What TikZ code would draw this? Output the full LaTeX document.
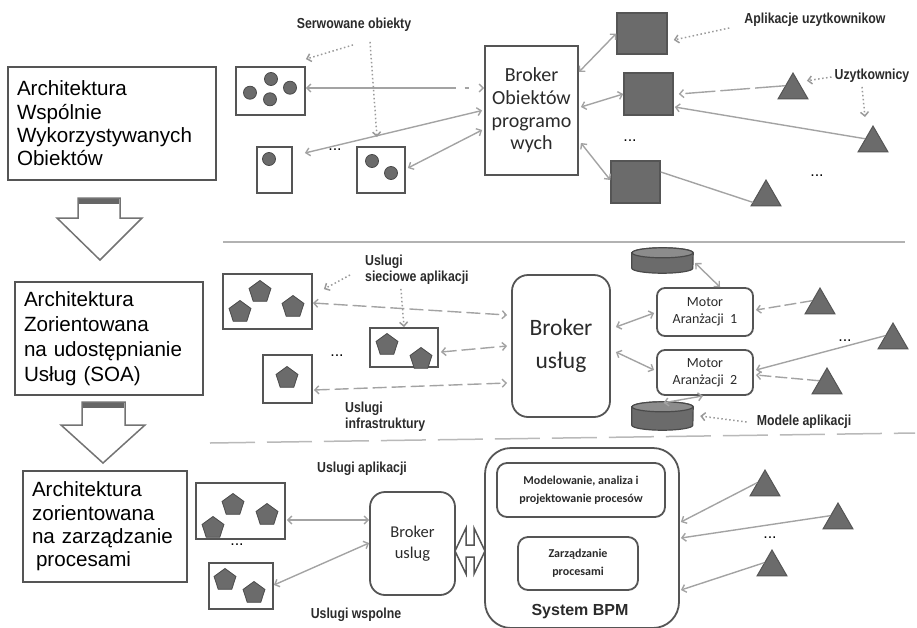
\documentclass[tikz,border=0pt]{standalone}
\usepackage{fontspec}
\setmainfont{Liberation Sans}
\newfontfamily\calfont{Carlito}
\newfontfamily\narrowfont[FakeStretch=0.85]{Liberation Sans}
\usetikzlibrary{shapes.geometric,arrows.meta}
\definecolor{bordergray}{HTML}{555555}
\definecolor{shapegray}{HTML}{6B6B6B}
\definecolor{shapeedge}{HTML}{4A4A4A}
\definecolor{linegray}{HTML}{A3A3A3}
\definecolor{notegray}{HTML}{9A9A9A}
\definecolor{textgray}{HTML}{2B2B2B}
\definecolor{capgray}{HTML}{8C8C8C}
\begin{document}
\begin{tikzpicture}[x=1pt,y=-1pt,
  >={Straight Barb[length=4pt,width=8pt]},
  box/.style={draw=bordergray,line width=1.8pt,fill=white,inner sep=0pt},
  rbox/.style={box,rounded corners=#1},
  lbox/.style={draw=bordergray,line width=1.6pt,fill=white,inner xsep=9pt,align=left,text=black},
  obj/.style={circle,draw=shapeedge,fill=shapegray,line width=0.8pt,minimum size=13pt,inner sep=0pt},
  pent/.style={regular polygon,regular polygon sides=5,draw=shapeedge,fill=shapegray,line width=0.8pt,minimum size=23pt,inner sep=0pt},
  tri/.style={regular polygon,regular polygon sides=3,draw=bordergray,fill=shapegray,line width=1pt,minimum size=34.6pt,inner sep=0pt},
  sq/.style={draw=bordergray,fill=shapegray,line width=1.5pt,inner sep=0pt},
  cylframe/.style={inner sep=0pt,minimum width=61pt},
  cylbody/.style={draw=shapeedge,fill=shapegray,line width=1.2pt},
  cylcap/.style={draw=shapeedge,fill=capgray,line width=1.2pt},
  conn/.style={draw=linegray,line width=1.4pt},
  dashedconn/.style={conn,dash pattern=on 14pt off 5pt},
  note/.style={draw=notegray,line width=1.5pt,dash pattern=on 1.5pt off 2.5pt,->},
  lab/.style={font=\narrowfont\bfseries\fontsize{14.5}{16}\selectfont,text=textgray,inner sep=0pt},
  dots/.style={font=\fontsize{16}{16}\selectfont,inner sep=0pt},
  brk/.style={text=textgray,align=center}
]
\useasboundingbox (0,0) rectangle (917,627);

% ---------------- left column ----------------
\node[lbox,minimum height=113pt,text width=190pt,font=\fontsize{20.6}{23.3}\selectfont] (a1) at (112,123.5)
  {Architektura\\Wspólnie\\Wykorzystywanych\\Obiektów};
\node[lbox,minimum height=113pt,text width=170pt,font=\fontsize{20.6}{25}\selectfont] (a2) at (109,338.5)
  {Architektura\\Zorientowana\\na udostępnianie\\Usług (SOA)};
\node[lbox,minimum height=111pt,text width=146pt,font=\fontsize{20.6}{23.3}\selectfont] (a3) at (105,526.5)
  {Architektura\\zorientowana\\na zarządzanie\\\hspace*{4pt}procesami};

% hollow down arrows
\draw[draw=gray!90!black,line width=1.5pt,fill=white,line join=miter]
  (78,198) -- (120,198) -- (120,218) -- (142,218) -- (100,260) -- (57,218) -- (78,218) -- cycle;
\fill[gray!80!black] (79,198.5) rectangle (119,203.5);
\draw[draw=gray!90!black,line width=1.5pt,fill=white,line join=miter]
  (82,402) -- (125,402) -- (125,425) -- (145,425) -- (103,463) -- (61,425) -- (82,425) -- cycle;
\fill[gray!80!black] (83,402.5) rectangle (124,407.5);

% ---------------- top section ----------------
\node[box,minimum width=69pt,minimum height=48pt] (o4) at (270.5,91) {};
\node[obj] (c41) at (250,92.7) {};
\node[obj] (c42) at (271,79) {};
\node[obj] (c43) at (290,87.7) {};
\node[obj] (c44) at (270,99.3) {};
\node[box,minimum width=35pt,minimum height=46pt] (o1) at (274.5,170) {};
\node[obj] (c11) at (269,159) {};
\node[box,minimum width=48pt,minimum height=46pt] (o2) at (381,170) {};
\node[obj] (c21) at (372,161) {};
\node[obj] (c22) at (391,173) {};
\node[dots] (d1) at (335,150) {...};

\node[box,minimum width=93pt,minimum height=129pt,brk,font=\calfont\fontsize{20}{22.7}\selectfont] (broker)
  at (531.5,110.5) {Broker\\Obiektów\\programo\\wych};

\node[sq,minimum width=50pt,minimum height=41pt] (sq1) at (642,33.5) {};
\node[sq,minimum width=49pt,minimum height=42pt] (sq2) at (648.5,94) {};
\node[sq,minimum width=49pt,minimum height=42pt] (sq3) at (635.5,182) {};
\node[dots] (d2) at (630,141) {...};

\node[tri] (t1) at (793,90.3) {};
\node[tri] (t2) at (873,143.3) {};
\node[tri] (t3) at (766,197.3) {};
\node[dots] (d3) at (817,176) {...};

\node[lab] (sob) at (354,25) {Serwowane obiekty};
\node[lab] (apl) at (815,20) {Aplikacje uzytkownikow};
\node[lab] (uzy) at (872,76) {Uzytkownicy};
\coordinate (m1) at (377,137);

\draw[conn,<->,dash pattern=on 148pt off 9pt on 4pt off 40pt] ([yshift=3pt]o4.east) -- ([yshift=22.5pt]broker.west);
\draw[conn,<->] ([xshift=12pt,yshift=17pt]o1.east) -- ([xshift=-2pt]broker.west);
\draw[conn,<->] ([xshift=2pt,yshift=2pt]o2.east) -- ([xshift=-2pt,yshift=-19.5pt]broker.west);
\draw[conn,<->] ([yshift=38.5pt]broker.east) -- (sq1.west);
\draw[conn,<->] ([xshift=2pt,yshift=3.5pt]broker.east) -- (sq2.west);
\draw[conn,<->] ([xshift=2pt,yshift=-32.5pt]broker.east) -- ([yshift=2pt]sq3.west);
\draw[conn,->,dash pattern=on 30pt off 5pt] (t1.side 1) -- ([xshift=5pt]sq2.east);
\draw[conn,->] (t2.side 1) -- ([xshift=1pt,yshift=-13pt]sq2.east);
\draw[conn] ([yshift=10pt]sq3.east) -- ([xshift=3pt,yshift=4pt]t3.corner 2);

\draw[note] ([xshift=-1pt,yshift=-13pt]sob.south) -- ([yshift=7pt]o4.north east);
\draw[note] ([xshift=16pt,yshift=-10pt]sob.south) -- (m1);
\draw[note] ([xshift=-15pt,yshift=-8pt]apl.west) -- ([xshift=6pt,yshift=-6.5pt]sq1.east);
\draw[note] ([xshift=-3pt,yshift=-1pt]uzy.west) -- ([xshift=6pt,yshift=5pt]t1.side 3);
\draw[note] ([xshift=-10pt,yshift=-4pt]uzy.south) -- ([xshift=-8pt,yshift=8pt]t2.corner 1);

% ---------------- middle section ----------------
\draw[draw=gray!60,line width=1.5pt] (223,242) -- (905,242);

\node[box,minimum width=89pt,minimum height=55pt] (bA) at (267.5,301.5) {};
\node[pent] (pA1) at (240,312) {};
\node[pent] (pA2) at (260,292) {};
\node[pent] (pA3) at (293,307) {};
\node[box,minimum width=68pt,minimum height=39pt] (bB) at (404,347.5) {};
\node[pent] (pB1) at (387,345) {};
\node[pent] (pB2) at (421,359) {};
\node[box,minimum width=49pt,minimum height=48pt] (bC) at (287.5,379) {};
\node[pent] (pC1) at (287,378) {};
\node[dots] (d4) at (337,356) {...};

\node[rbox=16pt,minimum width=98pt,minimum height=142pt,brk,font=\calfont\fontsize{23.5}{33}\selectfont] (b2)
  at (561,346) {Broker\\usług};

\node[rbox=8pt,minimum width=96pt,minimum height=48pt,brk,font=\calfont\fontsize{14}{17}\selectfont] (mo1)
  at (705,312) {Motor\\Aranżacji\ \ 1};
\node[rbox=8pt,minimum width=96pt,minimum height=45pt,brk,font=\calfont\fontsize{14}{17}\selectfont] (mo2)
  at (705,372.5) {Motor\\Aranżacji\ \ 2};

% cylinders (databases)
\node[cylframe,minimum height=25pt] (cy1) at (662.5,260.5) {};
\node[cylframe,minimum height=28pt] (cy2) at (662.5,416) {};
\foreach \c in {cy1,cy2}{
  \draw[cylbody] ([yshift=-5pt]\c.north west) -- ([yshift=5pt]\c.south west)
    arc[start angle=180,end angle=360,x radius=30.5pt,y radius=5pt]
    -- ([yshift=-5pt]\c.north east)
    arc[start angle=0,end angle=180,x radius=30.5pt,y radius=5pt] -- cycle;
  \draw[cylcap] ([yshift=-5pt]\c.north) ellipse[x radius=30.5pt,y radius=5pt];
}

\node[tri] (t4) at (820,305.3) {};
\node[tri] (t5) at (893,340.3) {};
\node[tri] (t6) at (827,385.3) {};
\node[dots] (d5) at (845,341) {...};

\node[lab,align=left,anchor=west] (usa) at (365,270) {Uslugi\\sieciowe aplikacji};
\node[lab,align=left,anchor=west] (uin) at (345,417) {Uslugi\\infrastruktury};
\node[lab] (mod) at (804,422) {Modele aplikacji};

\draw[dashedconn,<->] ([yshift=-1.5pt]bA.east) -- ([xshift=-4pt,yshift=31pt]b2.west);
\draw[dashedconn,<->] ([xshift=2pt,yshift=-4.5pt]bB.east) -- ([xshift=-4pt]b2.west);
\draw[dashedconn,<->] ([xshift=1pt,yshift=-11pt]bC.east) -- ([xshift=-4pt,yshift=-37pt]b2.west);
\draw[conn,<->] ([xshift=5pt,yshift=19pt]b2.east) -- ([xshift=-2pt,yshift=-1pt]mo1.west);
\draw[conn,<->] ([xshift=5pt,yshift=-6pt]b2.east) -- ([xshift=-2pt,yshift=2.5pt]mo2.west);
\draw[conn,<->] ([xshift=2pt,yshift=-2.5pt]cy1.east) -- ([xshift=15pt]mo1.north);
\draw[conn,<->] ([xshift=1pt,yshift=-1pt]cy2.north) -- ([xshift=-2pt]mo2.south);
\draw[conn,->,dash pattern=on 12pt off 4pt] (t4.side 1) -- ([xshift=2pt,yshift=2pt]mo1.east);
\draw[conn,->] (t5.side 1) -- ([xshift=2pt,yshift=2.5pt]mo2.east);
\draw[conn,->,dash pattern=on 12pt off 4pt] (t6.side 1) -- ([xshift=2pt,yshift=-2.5pt]mo2.east);

\draw[note] ([xshift=-15pt,yshift=-5pt]usa.west) -- ([xshift=11pt,yshift=-16pt]bA.north east);
\draw[note] ([xshift=-16pt,yshift=-4pt]usa.south) -- (bB.north);
\draw[note] ([xshift=-10pt]mod.west) -- ([xshift=7pt]cy2.east);

% ---------------- bottom section ----------------
\draw[draw=gray!55,line width=1.5pt,dash pattern=on 45pt off 12pt] (210,443) -- (915,433);

\node[box,minimum width=89pt,minimum height=56pt] (bD) at (240.5,511) {};
\node[pent] (pD1) at (213,528) {};
\node[pent] (pD2) at (233,505) {};
\node[pent] (pD3) at (267,515) {};
\node[dots] (d6) at (237,545) {...};
\node[box,minimum width=64pt,minimum height=46pt] (bE) at (241,586) {};
\node[pent] (pE1) at (225,580) {};
\node[pent] (pE2) at (254,593) {};

\node[rbox=15pt,minimum width=85pt,minimum height=103pt,brk,font=\calfont\fontsize{16.5}{20.5}\selectfont] (b3)
  at (412.5,543.5) {Broker\\uslug};

\node[rbox=26pt,minimum width=194pt,minimum height=180pt] (bpm) at (582,538) {};
\node[rbox=10pt,minimum width=168pt,minimum height=54pt,brk,font=\calfont\bfseries\fontsize{12}{18}\selectfont] (in1)
  at (581,490) {Modelowanie, analiza i\\projektowanie procesów};
\node[rbox=10pt,minimum width=120pt,minimum height=53pt,brk,font=\calfont\bfseries\fontsize{12}{18}\selectfont] (in2)
  at (578,563.5) {Zarządzanie\\procesami};
\node[inner sep=0pt,font=\bfseries\fontsize{16}{18}\selectfont,text=textgray] (sbpm) at (580,612) {System BPM};

\node[tri] (t7) at (765,487.3) {};
\node[tri] (t8) at (838,520.3) {};
\node[tri] (t9) at (772,567.3) {};
\node[dots] (d7) at (770,538) {...};

\node[lab] (ua) at (362,469) {Uslugi aplikacji};
\node[lab] (uw) at (356,615) {Uslugi wspolne};

\draw[conn,<->] ([xshift=1pt,yshift=-9pt]bD.east) -- ([yshift=23.5pt]b3.west);
\draw[conn,<->] ([yshift=1pt]bE.east) -- ([yshift=0.5pt]b3.west);
\draw[conn,->] (t7.side 1) -- ([xshift=1pt,yshift=16pt]bpm.east);
\draw[conn,->] (t8.side 1) -- ([xshift=1pt]bpm.east);
\draw[conn,->] (t9.side 1) -- ([xshift=1pt,yshift=-52pt]bpm.east);

% double block arrow between broker and BPM
\draw[draw=bordergray,line width=1.5pt,fill=white,line join=miter]
  (455,551) -- (466,528) -- (466,545) -- (474,545) -- (474,528) -- (485,551)
  -- (474,574) -- (474,557) -- (466,557) -- (466,574) -- cycle;
\end{tikzpicture}
\end{document}
